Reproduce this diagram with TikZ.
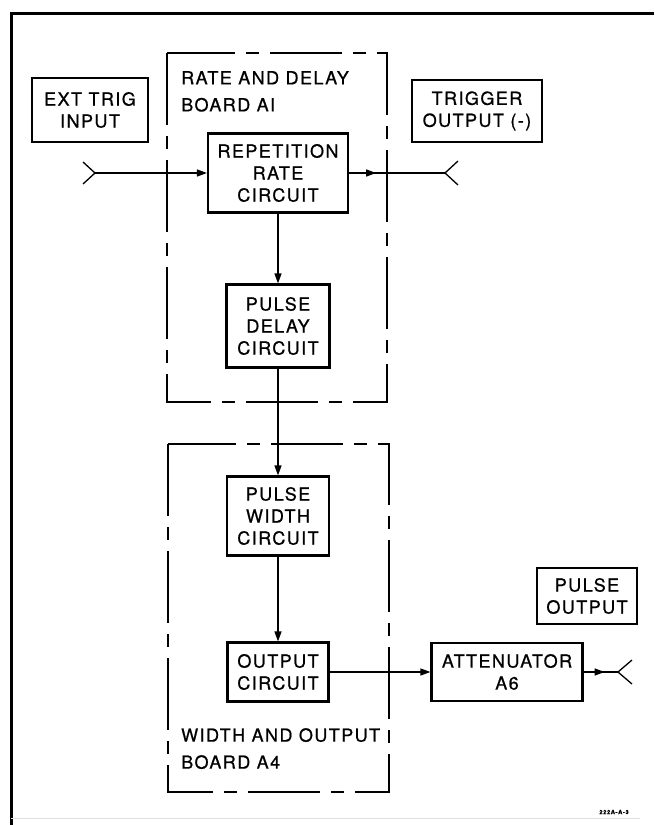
\documentclass[tikz,border=0pt]{standalone}
\usepackage{fontspec}
\newfontfamily\leroy[LetterSpace=8, FakeBold=0.8]{TeX Gyre Heros}
\usetikzlibrary{arrows.meta,decorations.markings}

\begin{document}
\begin{tikzpicture}[x=1pt, y=-1pt, >={Triangle[length=10pt,width=7pt]},
font=\leroy\fontsize{18}{22}\selectfont,
blk/.style={draw, line width=2.2pt, align=center, inner sep=0pt},
lab/.style={align=left, inner sep=0pt, anchor=north west, font=\leroy\fontsize{18}{27}\selectfont},
board/.style={line width=1.5pt, dash pattern=on 72pt off 11pt on 13pt off 11pt},
wire/.style={line width=1.3pt},
midtip/.style={postaction={decorate}, decoration={markings, mark=at position #1 with {\arrow{>}}}}]
\useasboundingbox (0,0) rectangle (654,825);
% frame of the sheet
\draw[line width=3pt] (654,13) -- (11,13) -- (11,825);
\draw[gray!25, line width=1pt] (11,818) -- (640,818);
% the two boards
\draw[board] (167,53) rectangle (387,402);
\draw[board] (168,444) rectangle (389,792);
\node[lab] (rdlab) at (181,71) {RATE AND DELAY\\BOARD AI};
\node[lab] (wolab) at (181,728) {WIDTH AND OUTPUT\\BOARD A4};
% blocks
\node[blk, minimum width=116, minimum height=64] (exttrig) at (90,110) {EXT TRIG\\INPUT};
\node[blk, minimum width=130, minimum height=62] (trigout) at (477,111) {TRIGGER\\OUTPUT (-)};
\node[blk, minimum width=140, minimum height=79] (rep) at (278,173) {REPETITION\\RATE\\CIRCUIT};
\node[blk, minimum width=103, minimum height=83] (delay) at (278,326) {PULSE\\DELAY\\CIRCUIT};
\node[blk, minimum width=102, minimum height=79] (pwidth) at (278,516) {PULSE\\WIDTH\\CIRCUIT};
\node[blk, minimum width=101, minimum height=59] (outc) at (278,672) {OUTPUT\\CIRCUIT};
\node[blk, minimum width=151, minimum height=58] (atten) at (507,672) {ATTENUATOR\\A6};
\node[blk, minimum width=100, minimum height=56] (pulseout) at (587,596) {PULSE\\OUTPUT};
% jacks
\coordinate (jin) at (95,173);
\coordinate (jtrig) at (445,173);
\coordinate (jpulse) at (618,672);
\draw[wire] (jin) ++(-12,-11) -- (jin) -- ++(-12,11);
\draw[wire] (jtrig) ++(13,-12) -- (jtrig) -- ++(13,12);
\draw[wire] (jpulse) ++(14,-12) -- (jpulse) -- ++(14,12);
% signal path
\draw[wire, ->] (jin) -- (rep);
\draw[wire, midtip=27pt] (rep) -- (jtrig);
\draw[wire, ->] (rep) -- (delay);
\draw[wire, ->] (delay) -- (pwidth);
\draw[wire, ->] (pwidth) -- (outc);
\draw[wire, ->] (outc) -- (atten);
\draw[wire, midtip=21pt] (atten) -- (jpulse);
\node[font=\leroy\bfseries\fontsize{6}{7}\selectfont, inner sep=0pt] (dwgno) at (614,812) {222A-A-3};
\end{tikzpicture}
\end{document}
